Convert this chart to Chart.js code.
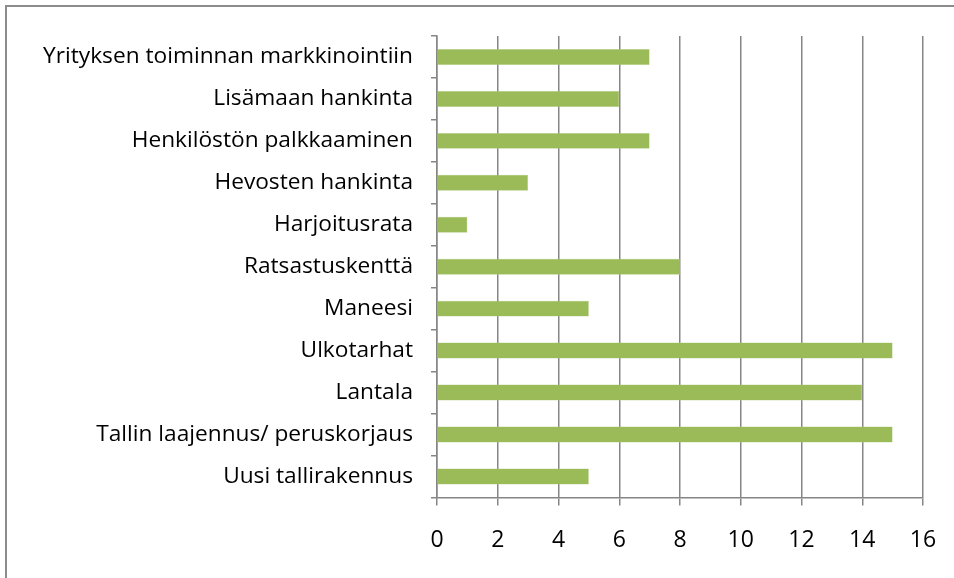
<!DOCTYPE html>
<html>
<head>
<meta charset="utf-8">
<script src="https://cdn.jsdelivr.net/npm/chart.js@4/dist/chart.umd.min.js"></script>
<style>
    body { margin: 0; background: #fff; }
    #frame {
        position: absolute; left: 5px; top: 5px; width: 960px; height: 590px;
        border-left: 2px solid #8c8c8c; border-top: 2px solid #8c8c8c;
    }
    #wrap { position: absolute; left: 0; top: 0; width: 954px; height: 578px; }
</style>
</head>
<body>
<div id="frame"></div>
<div id="wrap"><canvas id="barChart"></canvas></div>
<script>
// Categories top to bottom
const categories = [
    'Yrityksen toiminnan markkinointiin',
    'Lisämaan hankinta',
    'Henkilöstön palkkaaminen',
    'Hevosten hankinta',
    'Harjoitusrata',
    'Ratsastuskenttä',
    'Maneesi',
    'Ulkotarhat',
    'Lantala',
    'Tallin laajennus/ peruskorjaus',
    'Uusi tallirakennus'
];
const answers = [7, 6, 7, 3, 1, 8, 5, 15, 14, 15, 5];
const xTicks = [0, 2, 4, 6, 8, 10, 12, 14, 16];

const ctx = document.getElementById('barChart');
new Chart(ctx.getContext('2d'), {
    type: 'bar',
    data: {
        labels: categories,
        datasets: [{
            data: answers,
            backgroundColor: '#9bbb59',
            borderColor: '#b5d08a',
            borderWidth: 0.5,
            barPercentage: 0.38,
            categoryPercentage: 1
        }]
    },
    options: {
        indexAxis: 'y',
        responsive: true,
        maintainAspectRatio: false,
        animation: false,
        layout: { padding: { left: 0, right: 31, top: 36, bottom: 3 } },
        plugins: { legend: { display: false }, tooltip: { enabled: false } },
        scales: {
            x: {
                min: xTicks[0],
                max: xTicks[xTicks.length - 1],
                afterBuildTicks: axis => { axis.ticks = xTicks.map(v => ({ value: v })); },
                afterFit: axis => { axis.paddingLeft = 0; axis.paddingRight = 0; },
                grid: { color: '#868686', lineWidth: 1.5, tickLength: 8 },
                border: { color: '#868686', width: 1.5 },
                ticks: { color: '#000', font: { family: 'Open Sans', size: 23 }, padding: 21 }
            },
            y: {
                afterFit: axis => { axis.width = 437; },
                grid: { drawOnChartArea: false, color: '#868686', lineWidth: 1.5, tickLength: 6 },
                border: { color: '#868686', width: 1.5 },
                ticks: { color: '#000', font: { family: 'Open Sans', size: 22.7 }, padding: 18, autoSkip: false }
            }
        }
    }
});
</script>
</body>
</html>
